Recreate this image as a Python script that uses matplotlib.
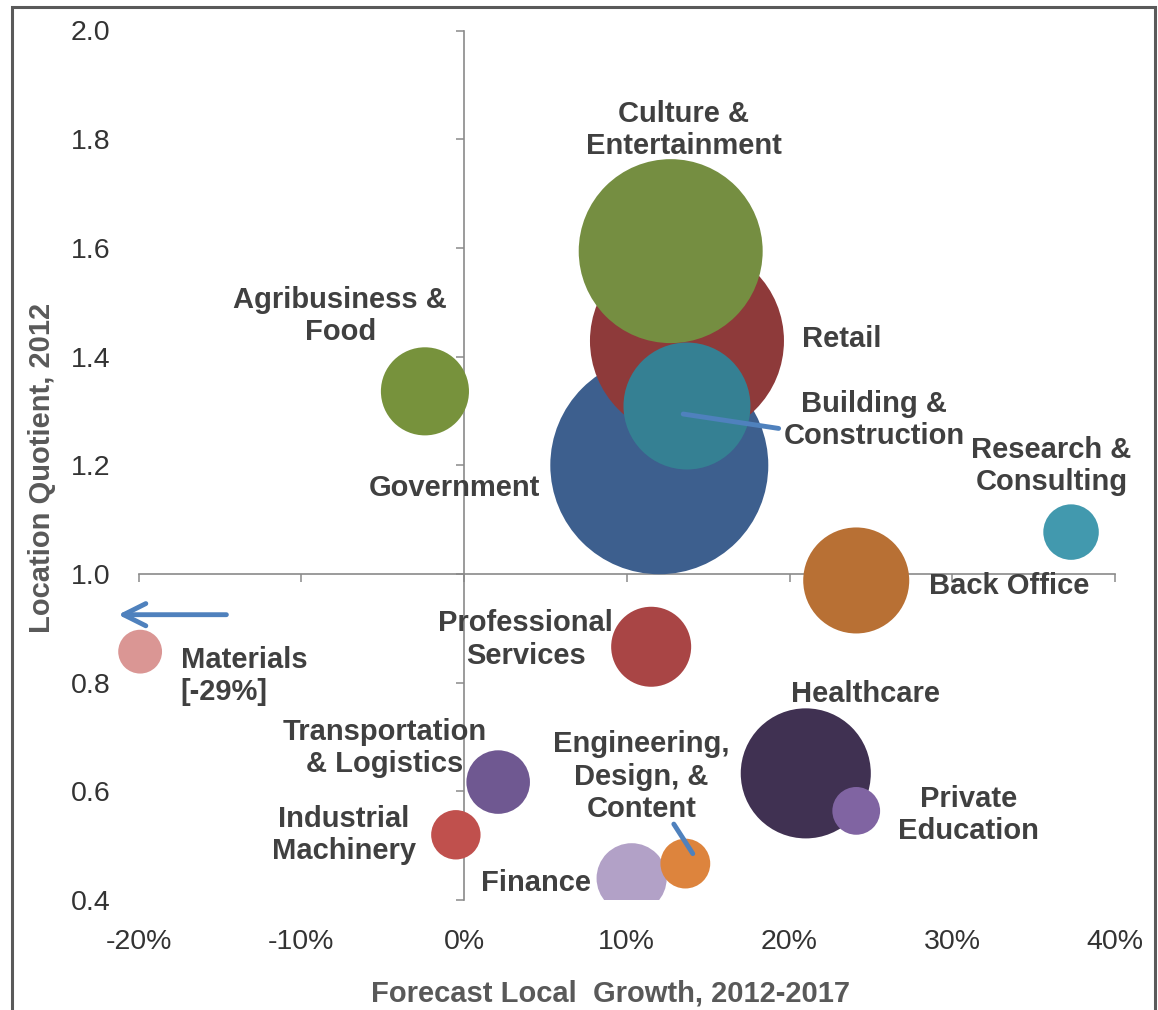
import matplotlib
matplotlib.use("Agg")
import matplotlib.pyplot as plt
from matplotlib.patches import Rectangle
from matplotlib.ticker import FuncFormatter

plt.rcParams['font.family'] = ['Liberation Sans', 'DejaVu Sans']

# ---------------- data ----------------
industries = ["Government", "Retail", "Culture & Entertainment", "Building & Construction",
              "Agribusiness & Food", "Research & Consulting", "Back Office",
              "Professional Services", "Materials", "Transportation & Logistics",
              "Industrial Machinery", "Healthcare", "Private Education",
              "Finance", "Engineering, Design, & Content"]
growth = [12.0, 13.7, 12.7, 13.7, -2.4, 37.3, 24.1, 11.5, -19.9, 2.1, -0.5, 21.0, 24.1, 10.3, 13.6]  # % (Materials shown at axis edge, actual -29%)
lq = [1.200, 1.429, 1.594, 1.309, 1.336, 1.077, 0.988, 0.866, 0.857, 0.617, 0.520, 0.633, 0.564, 0.440, 0.467]
employment = [1188, 941, 846, 403, 194, 77, 281, 160, 48, 101, 61, 423, 57, 123, 62]  # relative bubble size

x_ticks = [-20, -10, 0, 10, 20, 30, 40]
y_ticks = [0.4, 0.6, 0.8, 1.0, 1.2, 1.4, 1.6, 1.8, 2.0]

# ---------------- styles ----------------
colors = ["#3D5F8E", "#8E3A3A", "#758E41", "#358093", "#77923C", "#4299AE", "#B87034",
          "#A94545", "#DA9694", "#6F5891", "#C0504D", "#403152", "#8064A2",
          "#B2A1C7", "#DD843D"]
labels = ["Government", "Retail", "Culture &\nEntertainment", "Building &\nConstruction",
          "Agribusiness &\nFood", "Research &\nConsulting", "Back Office",
          "Professional\nServices", "Materials\n[-29%]", "Transportation\n& Logistics",
          "Industrial\nMachinery", "Healthcare", "Private\nEducation",
          "Finance", "Engineering,\nDesign, &\nContent"]
label_pos = [(-0.6, 1.158), (23.2, 1.432), (13.5, 1.817), (25.2, 1.283),
             (-7.6, 1.475), (36.1, 1.199), (33.5, 0.978),
             (3.8, 0.879), (-17.4, 0.812), (-4.9, 0.680),
             (-7.4, 0.520), (24.7, 0.779), (31.0, 0.556),
             (4.4, 0.431), (10.9, 0.627)]
label_ha = ["center"] * len(labels)
label_ha[8] = "left"

W, H = 1158, 1010
fig = plt.figure(figsize=(W / 100, H / 100), dpi=100)
fig.patch.set_facecolor("white")

rect = [138.5 / W, 1 - 900 / H, (1115 - 138.5) / W, (900 - 30.5) / H]

# axes carrying the tick labels at the outer edges
ax_lab = fig.add_axes(rect)
ax_lab.set_xlim(-20, 40)
ax_lab.set_ylim(0.4, 2.0)
ax_lab.set_xticks(x_ticks)
ax_lab.set_yticks(y_ticks)
ax_lab.xaxis.set_major_formatter(FuncFormatter(lambda v, p: f"{v:.0f}%"))
ax_lab.yaxis.set_major_formatter(FuncFormatter(lambda v, p: f"{v:.1f}"))
ax_lab.tick_params(length=0, labelsize=20.5, labelcolor="#333333")
ax_lab.tick_params(axis="x", pad=21)
ax_lab.tick_params(axis="y", pad=20)
for s in ax_lab.spines.values():
    s.set_visible(False)
ax_lab.patch.set_alpha(0)

# main plotting axes, with crossing axis lines
ax = fig.add_axes(rect)
ax.set_xlim(-20, 40)
ax.set_ylim(0.4, 2.0)
ax.patch.set_alpha(0)
ax.spines["top"].set_visible(False)
ax.spines["right"].set_visible(False)
ax.spines["left"].set_position(("data", 0))
ax.spines["bottom"].set_position(("data", 1.0))
for s in ("left", "bottom"):
    ax.spines[s].set_color("#8A8A8A")
    ax.spines[s].set_linewidth(1.2)
ax.set_xticks(x_ticks)
ax.set_yticks(y_ticks)
ax.tick_params(direction="out", length=5.5, width=1.1, color="#8A8A8A",
               labelleft=False, labelbottom=False)

# bubbles: clipped only at the bottom of the plot area
clip_rect = Rectangle((-0.2, 0.0), 1.4, 1.3, transform=ax.transAxes)
scale = 20.736  # points^2 per employment unit
for i in range(len(industries)):
    sc = ax.scatter(growth[i], lq[i], s=employment[i] * scale, color=colors[i],
                    edgecolors="none", zorder=3 + i * 0.01)
    sc.set_clip_path(clip_rect)

for i, lab in enumerate(labels):
    ax.text(label_pos[i][0], label_pos[i][1], lab, ha=label_ha[i], va="center",
            multialignment=label_ha[i], fontsize=21, fontweight="bold",
            color="#404040", zorder=5, linespacing=1.2)

# leader lines
ax.annotate("", xy=(13.3, 1.295), xytext=(19.5, 1.267),
            arrowprops=dict(arrowstyle="-", color="#4F81BD", lw=3.5), zorder=6)
ax.annotate("", xy=(14.15, 0.481), xytext=(12.8, 0.544),
            arrowprops=dict(arrowstyle="-", color="#4F81BD", lw=3.5), zorder=6)
# arrow for Materials (off scale)
ax.annotate("", xy=(-21.25, 0.925), xytext=(-14.6, 0.925),
            arrowprops=dict(arrowstyle="->", color="#4F81BD", lw=3.5,
                            mutation_scale=40, shrinkA=0, shrinkB=0),
            annotation_clip=False, zorder=6)

# axis titles
fig.text(611 / W, 1 - 993 / H, "Forecast Local  Growth, 2012-2017", ha="center",
         va="center", fontsize=21, fontweight="bold", color="#595959")
fig.text(42 / W, 1 - 468 / H, "Location Quotient, 2012", ha="center", va="center",
         rotation=90, fontsize=21, fontweight="bold", color="#595959")

# outer frame
fig.patches.append(Rectangle((11.7 / W, -0.05), (1155 - 11.7) / W, (1 - 7 / H) + 0.05,
                             transform=fig.transFigure, fill=False,
                             edgecolor="#5A5A5A", linewidth=2.2))

fig.savefig("out.png", dpi=100)
